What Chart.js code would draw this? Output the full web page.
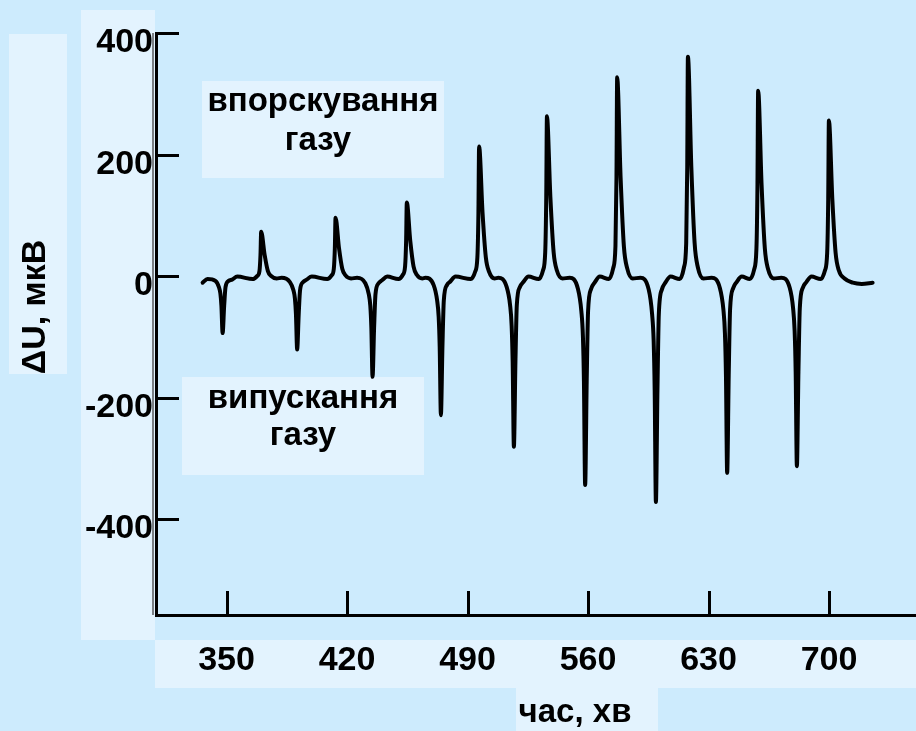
<!DOCTYPE html>
<html lang="uk">
<head>
<meta charset="utf-8">
<title>ΔU, мкВ</title>
<script src="https://cdn.jsdelivr.net/npm/chart.js@4.4.1/dist/chart.umd.min.js"></script>
<style>
  html, body { margin: 0; padding: 0; background: #cdebfd; }
  #wrap { position: relative; width: 916px; height: 731px; }
</style>
</head>
<body>
<div id="wrap"><canvas id="signalChart"></canvas></div>
<script>
// time, min — one row per peak (release = dip, injection = spike)
const timeMin = [
  336.1, 338.9, 343.5, 345.5, 346.4, 347.0, 347.7, 348.6, 349.4, 351.2, 353.2, 356.2,
  365.3, 367.8, 369.1, 369.7, 370.1, 372.1, 374.0, 375.9, 379.1,
  382.0, 386.8, 388.8, 389.7, 390.3, 391.0, 391.9, 392.7, 394.5, 396.5, 399.5,
  408.5, 411.0, 412.3, 412.9, 413.3, 415.3, 417.2, 419.1, 422.3,
  425.8, 430.6, 432.6, 433.5, 434.1, 434.8, 435.7, 436.5, 438.3, 440.3, 443.3,
  449.9, 452.4, 453.7, 454.3, 454.7, 456.7, 458.6, 460.5, 463.7,
  465.5, 470.3, 472.3, 473.2, 473.8, 474.5, 475.4, 476.2, 478.0, 480.0, 483.0,
  491.9, 494.4, 495.7, 496.3, 496.7, 498.7, 500.6, 502.5, 505.7,
  507.9, 512.7, 514.7, 515.6, 516.2, 516.9, 517.8, 518.6, 520.4, 522.4, 525.4,
  531.3, 533.8, 535.1, 535.7, 536.1, 538.1, 540.0, 541.9, 545.1,
  549.3, 554.1, 556.1, 557.0, 557.6, 558.3, 559.2, 560.0, 561.8, 563.8, 566.8,
  572.1, 574.6, 575.9, 576.5, 576.9, 578.9, 580.8, 582.7, 585.9,
  590.4, 595.2, 597.2, 598.1, 598.7, 599.4, 600.3, 601.1, 602.9, 604.9, 607.9,
  613.2, 615.7, 617.0, 617.6, 618.0, 620.0, 621.9, 623.8, 627.0,
  631.8, 636.6, 638.6, 639.5, 640.1, 640.8, 641.7, 642.5, 644.3, 646.3, 649.3,
  654.0, 656.5, 657.8, 658.4, 658.8, 660.8, 662.7, 664.6, 667.8,
  672.3, 677.1, 679.1, 680.0, 680.6, 681.3, 682.2, 683.0, 684.8, 686.8, 689.8,
  695.1, 697.6, 698.9, 699.5, 699.9, 701.9, 703.8, 705.7, 709.0,
  713.8, 719.0, 725.3
];

// ΔU, мкВ
const deltaU = [
  -11, -5, -8, -18, -29, -49, -94, -49, -18, -8, -6, -1,
  -5, 0, 8, 35, 73, 35, 8, 0, -4,
  -3, -10, -23, -37, -63, -121, -63, -23, -10, -6, -1,
  -5, 1, 12, 46, 96, 46, 12, 1, -4,
  -3, -12, -30, -49, -85, -166, -85, -30, -12, -7, -1,
  -5, 2, 16, 58, 121, 58, 16, 2, -4,
  -3, -15, -40, -67, -116, -229, -116, -40, -15, -9, -1,
  -5, 7, 31, 104, 213, 104, 31, 7, -4,
  -3, -18, -48, -82, -142, -281, -142, -48, -18, -10, -1,
  -5, 9, 39, 130, 263, 130, 39, 9, -4,
  -3, -21, -58, -99, -174, -344, -174, -58, -21, -11, -1,
  -5, 13, 49, 162, 327, 162, 49, 13, -4,
  -3, -22, -63, -107, -188, -372, -188, -63, -22, -11, -1,
  -5, 14, 54, 178, 361, 178, 54, 14, -4,
  -3, -20, -55, -94, -164, -324, -164, -55, -20, -10, -1,
  -5, 11, 45, 150, 305, 150, 45, 11, -4,
  -3, -19, -53, -91, -158, -313, -158, -53, -19, -10, -1,
  -5, 9, 38, 126, 256, 126, 38, 9, -4,
  -11, -13, -11
];

const xTicks = [350, 420, 490, 560, 630, 700];
const yTicks = [400, 200, 0, -200, -400];

const xTitle = "час, хв";
const yTitle = "ΔU, мкВ";
const injectLabel = ["впорскування", "газу"];
const releaseLabel = ["випускання", "газу"];

const FONT = "'Liberation Sans', Arial, sans-serif";
const PANEL = "#e3f3fe";

/* ---------- light panels behind the texts ---------- */
const panels = {
  id: "panels",
  beforeDraw(chart) {
    const c = chart.ctx;
    c.save();
    c.fillStyle = PANEL;
    c.fillRect(81, 10, 74, 630);     // y tick labels
    c.fillRect(155, 640, 761, 48);   // x tick labels
    c.fillRect(516, 688, 142, 43);   // x title
    c.fillRect(9, 34, 58, 340);      // y title
    c.fillRect(202, 81, 242, 97);    // injection note
    c.fillRect(182, 377, 242, 98);   // release note
    c.restore();
  }
};

/* ---------- tick marks pointing into the plot ---------- */
const innerTicks = {
  id: "innerTicks",
  beforeDatasetsDraw(chart) {
    const c = chart.ctx;
    const { x, y } = chart.scales;
    const area = chart.chartArea;
    c.save();
    // soft shadow along the y axis
    c.strokeStyle = "#7a7f84";
    c.lineWidth = 2;
    c.beginPath();
    c.moveTo(area.left - 3, area.top);
    c.lineTo(area.left - 3, area.bottom);
    c.stroke();

    c.strokeStyle = "#000";
    c.lineWidth = 3;
    c.beginPath();
    y.ticks.forEach(t => {
      const py = Math.round(y.getPixelForValue(t.value)) + 0.5;
      c.moveTo(area.left, py);
      c.lineTo(area.left + 23, py);
    });
    x.ticks.forEach(t => {
      const px = Math.round(x.getPixelForValue(t.value)) + 0.5;
      c.moveTo(px, area.bottom);
      c.lineTo(px, area.bottom - 24);
    });
    c.stroke();
    c.restore();
  }
};

/* ---------- notes and axis titles ---------- */
const notes = {
  id: "notes",
  afterDraw(chart) {
    const c = chart.ctx;
    c.save();
    c.fillStyle = "#000";
    c.textAlign = "center";
    c.textBaseline = "alphabetic";
    c.font = `bold 33px ${FONT}`;
    c.fillText(injectLabel[0], 323, 111);
    c.fillText(injectLabel[1], 318, 150);
    c.fillText(releaseLabel[0], 303, 408);
    c.fillText(releaseLabel[1], 303, 445);

    c.fillText(xTitle, 575, 722);

    c.font = `bold 34px ${FONT}`;
    c.translate(45, 307);
    c.rotate(-Math.PI / 2);
    c.fillText(yTitle, 0, 0);
    c.restore();
  }
};

const tickFont = { family: FONT, size: 34, weight: "bold" };

new Chart(document.getElementById("signalChart"), {
  type: "line",
  data: {
    datasets: [{
      data: timeMin.map((t, i) => ({ x: t, y: deltaU[i] })),
      borderColor: "#000",
      borderWidth: 4,
      pointRadius: 0,
      fill: false,
      tension: 0.4,
      cubicInterpolationMode: "monotone",
      borderJoinStyle: "round",
      borderCapStyle: "round"
    }]
  },
  options: {
    responsive: true,
    maintainAspectRatio: false,
    animation: false,
    events: [],
    layout: { padding: { top: 33, left: 0, right: 0, bottom: 0 } },
    plugins: {
      legend: { display: false },
      tooltip: { enabled: false }
    },
    scales: {
      x: {
        type: "linear",
        min: 309,
        max: 750.5,
        afterBuildTicks: s => { s.ticks = xTicks.map(v => ({ value: v })); },
        afterFit: s => { s.height = 116; },
        grid: { drawOnChartArea: false, drawTicks: false },
        border: { color: "#000", width: 3 },
        ticks: {
          color: "#000",
          font: tickFont,
          padding: 25,
          maxRotation: 0,
          autoSkip: false,
          callback: v => String(v)
        }
      },
      y: {
        type: "linear",
        min: -558,
        max: 400,
        afterBuildTicks: s => { s.ticks = yTicks.map(v => ({ value: v })); },
        afterFit: s => { s.width = 156; },
        grid: { drawOnChartArea: false, drawTicks: false },
        border: { color: "#000", width: 3 },
        ticks: {
          color: "#000",
          font: tickFont,
          padding: 3,
          labelOffset: 10,
          autoSkip: false,
          callback: v => String(v)
        }
      }
    }
  },
  plugins: [panels, innerTicks, notes]
});
</script>
</body>
</html>
